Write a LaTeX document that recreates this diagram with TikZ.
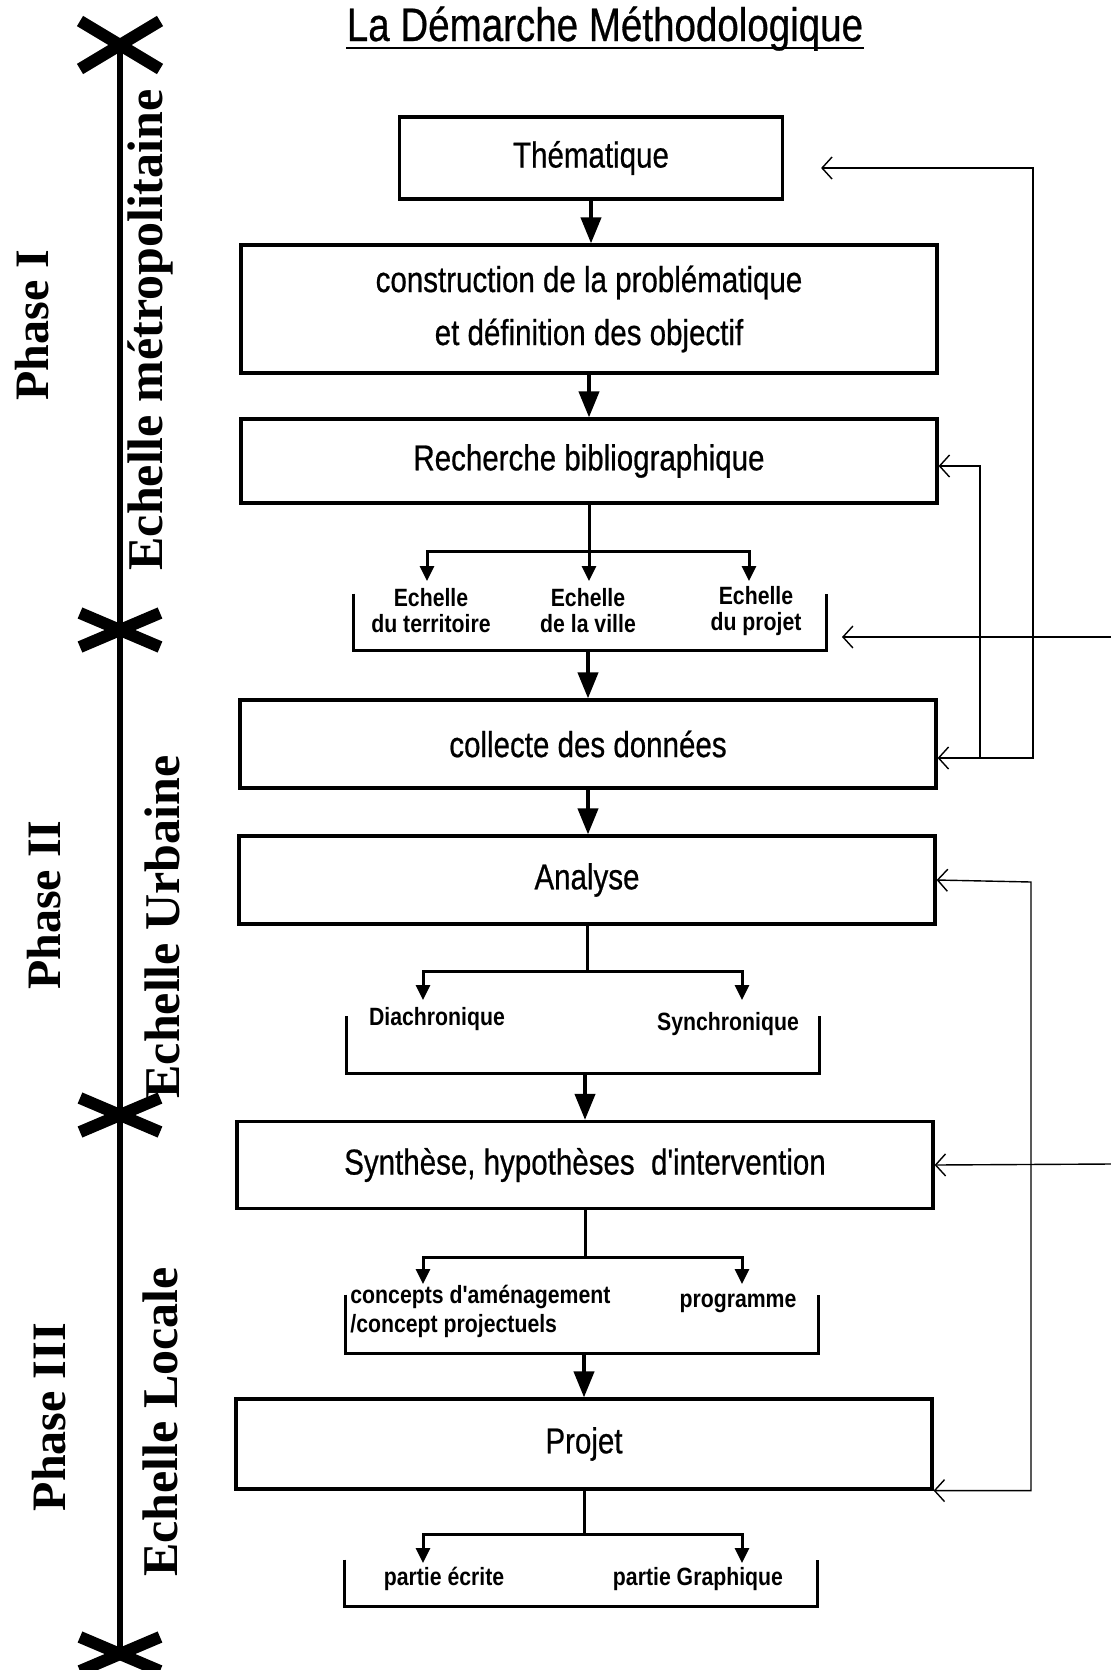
\documentclass[tikz,border=0pt]{standalone}
\usepackage{fontspec}
\usetikzlibrary{arrows.meta}
\newfontfamily\boxfont[FakeStretch=0.82,FakeBold=0.6]{Liberation Sans}
\newfontfamily\lblfont[FakeStretch=0.85]{Liberation Sans}
\newfontfamily\phasefont{Liberation Serif}

\begin{document}
\begin{tikzpicture}[x=0.5pt,y=-0.5pt,
    box/.style={draw, line width=1.6pt, minimum width=348pt, inner sep=0pt, align=center,
      font=\boxfont\fontsize{18}{26.5}\selectfont},
    bracket/.style={minimum width=236pt, inner sep=0pt},
    brk/.style={line width=1.5pt},
    lbl/.style={inner sep=0pt, align=center, font=\lblfont\bfseries\fontsize{12.5}{13}\selectfont},
    bigarrow/.style={line width=2pt, arrows={-Triangle[length=13pt,width=10pt]}},
    stem/.style={line width=1.5pt},
    tipsmall/.style={line width=1.5pt, arrows={-Triangle[length=7.5pt,width=7pt]}},
    fb/.style={line width=0.7pt, arrows={Straight Barb[length=5pt,width=11pt]-}},
    fbboth/.style={line width=0.7pt, arrows={Straight Barb[length=5pt,width=11pt]-Straight Barb[length=5pt,width=11pt]}},
    side/.style={rotate=90, inner sep=0pt, font=\phasefont\bfseries\fontsize{24}{24}\selectfont},
    scale label/.style={side, font=\phasefont\bfseries\fontsize{25}{25}\selectfont},
    cross/.style={line width=6pt}]

    \useasboundingbox (0,0) rectangle (1111,1670);

    % Left side: axis with phase limits
    \draw[line width=3pt] (120,45) -- (120,1654);
    \foreach \cy/\ch in {45/24, 630/17, 1115/17, 1654/17} {
        \draw[cross] (80,\cy-\ch) -- (160,\cy+\ch);
        \draw[cross] (80,\cy+\ch) -- (160,\cy-\ch);
    }
    \node[side] (ph1) at (32,325) {Phase I};
    \node[scale label] (sc1) at (150,330) {Echelle métropolitaine};
    \node[side] (ph2) at (44,905) {Phase II};
    \node[scale label] (sc2) at (162,927) {Echelle Urbaine};
    \node[side] (ph3) at (49,1417) {Phase III};
    \node[scale label] (sc3) at (160,1422) {Echelle Locale};

    % Title
    \node[inner sep=0pt, anchor=base, font=\boxfont\fontsize{23.5}{24}\selectfont] (title) at (605,41) {La Démarche Méthodologique};
    \draw[line width=1pt] ([yshift=-3.5pt]title.base west) -- ([yshift=-3.5pt]title.base east);

    % Main steps
    \node[box, minimum width=191.5pt, minimum height=41pt] (them) at (591,158) {Thématique};
    \node[box, minimum height=64pt] (prob) at (589,309) {construction de la problématique\\et définition des objectif};
    \node[box, minimum height=42pt] (rech) at (589,461) {Recherche bibliographique};
    \node[box, minimum height=44pt] (coll) at (588,744) {collecte des données};
    \node[box, minimum height=44pt] (ana) at (587,880) {Analyse};
    \node[box, minimum height=43.5pt] (syn) at (585,1165) {Synthèse, hypothèses\ \ d'intervention};
    \node[box, minimum height=45pt] (proj) at (584,1444) {Projet};

    % Open brackets
    \node[bracket, minimum height=28pt] (br1) at (590,622) {};
    \node[bracket, minimum height=28.5pt] (br2) at (583,1045) {};
    \node[bracket, minimum height=29pt] (br3) at (582,1324) {};
    \node[bracket, minimum height=23pt] (br4) at (581,1583) {};
    \foreach \b in {br1,br2,br3,br4}
        \draw[brk] (\b.north west) |- (\b.south east) -- (\b.north east);

    % Bracket contents
    \node[lbl] (e1) at (431,611) {Echelle\\du territoire};
    \node[lbl] (e2) at (588,611) {Echelle\\de la ville};
    \node[lbl] (e3) at (756,611) {Echelle\\du projet};
    \node[lbl] (dia) at (437,1019) {Diachronique};
    \node[lbl] (syc) at (728,1024) {Synchronique};
    \node[lbl, align=left, anchor=west, font=\lblfont\bfseries\fontsize{12.5}{14.5}\selectfont] (conc) at (350,1311) {concepts d'aménagement\\/concept projectuels};
    \node[lbl] (prog) at (738,1303) {programme};
    \node[lbl] (pe) at (444,1579) {partie écrite};
    \node[lbl] (pg) at (698,1579) {partie Graphique};

    % Thick arrows
    \draw[bigarrow] (them.south) -- (them.south |- prob.north);
    \draw[bigarrow] (prob.south) -- (prob.south |- rech.north);
    \draw[bigarrow] (br1.south -| coll.north) -- (coll.north);
    \draw[bigarrow] (coll.south) -- (coll.south |- ana.north);
    \draw[bigarrow] (br2.south -| syn.north) -- (syn.north);
    \draw[bigarrow] (br3.south -| proj.north) -- (proj.north);

    % Branches
    \coordinate (k1) at (rech.south |- 0,551);
    \coordinate (t1a) at (427,581);
    \coordinate (t1b) at (rech.south |- 0,581);
    \coordinate (t1c) at (749,581);
    \draw[stem] (rech.south) -- (k1);
    \draw[tipsmall] (k1) -| (t1a);
    \draw[tipsmall] (k1) -- (t1b);
    \draw[tipsmall] (k1) -| (t1c);
    \foreach \bx/\jy/\ty in {ana/971/1000, syn/1257/1284, proj/1534/1563} {
        \coordinate (\bx-k) at (\bx.south |- 0,\jy);
        \coordinate (\bx-l) at (423,\ty);
        \coordinate (\bx-r) at (742,\ty);
        \draw[stem] (\bx.south) -- (\bx-k);
        \draw[tipsmall] (\bx-k) -| (\bx-l);
        \draw[tipsmall] (\bx-k) -| (\bx-r);
    }

    % Feedback lines
    \coordinate (fa) at (1033,168);
    \draw[fbboth] ([xshift=18.5pt,yshift=-5pt]them.east) -- (fa) |- ([yshift=-7pt]coll.east);
    \coordinate (fj) at (980,758);
    \draw[fb] ([yshift=-2.5pt]rech.east) -| (fj);
    \coordinate (fct) at (842,637);
    \coordinate (fc) at (1111,637);
    \draw[fb] (fct) -- (fc);
    \coordinate (fd) at (1031,882);
    \draw[fbboth] (ana.east) -- (fd) |- (proj.south east);
    \coordinate (fe) at (1111,1164);
    \draw[fb] (syn.east) -- (fe);
\end{tikzpicture}
\end{document}
